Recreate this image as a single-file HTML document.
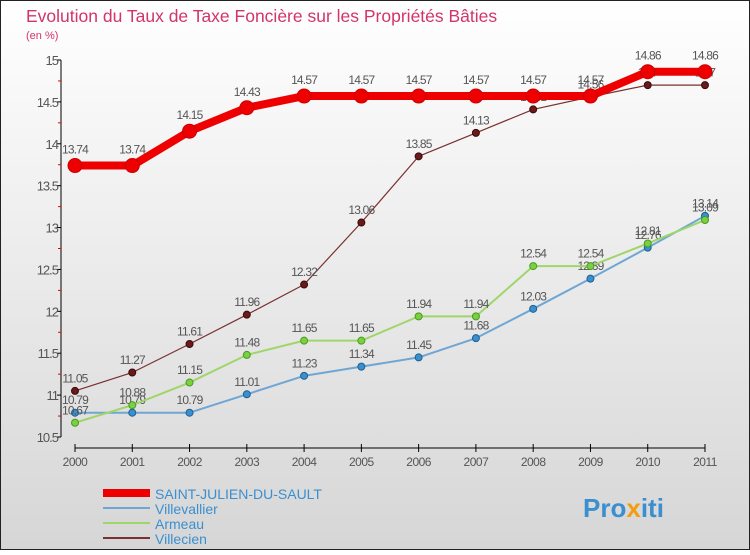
<!DOCTYPE html>
<html><head><meta charset="utf-8"><style>
body{margin:0;width:750px;height:550px;overflow:hidden;font-family:"Liberation Sans",sans-serif}
</style></head><body>
<svg id="c" width="750" height="550" xmlns="http://www.w3.org/2000/svg">
<defs><linearGradient id="bg" x1="0" y1="0" x2="0" y2="1"><stop offset="0" stop-color="#ffffff"/><stop offset="1" stop-color="#d6d6d6"/></linearGradient></defs>
<rect x="0.5" y="0.5" width="749" height="549" fill="url(#bg)" stroke="#222"/>
<text x="26" y="22" font-size="17.5" fill="#d2346b">Evolution du Taux de Taxe Foncière sur les Propriétés Bâties</text>
<text x="26" y="39" font-size="11" fill="#d2346b">(en %)</text>
<g id="axes"></g><g id="series"></g>
<g>
<line x1="103" y1="493" x2="150" y2="493" stroke="#ee0000" stroke-width="8"/>
<text x="155" y="499" font-size="14" fill="#3a8fd0">SAINT-JULIEN-DU-SAULT</text>
<line x1="103" y1="508" x2="150" y2="508" stroke="#6fa6d4" stroke-width="2"/>
<text x="155" y="514" font-size="14" fill="#3a8fd0">Villevallier</text>
<line x1="103" y1="523" x2="150" y2="523" stroke="#9ed66a" stroke-width="2"/>
<text x="155" y="529" font-size="14" fill="#3a8fd0">Armeau</text>
<line x1="103" y1="538" x2="150" y2="538" stroke="#7a3030" stroke-width="2"/>
<text x="155" y="544" font-size="14" fill="#3a8fd0">Villecien</text>
</g>
<text x="583" y="517" font-size="26" font-weight="bold" fill="#3a8fd0">Pro<tspan fill="#f39c12">x</tspan>iti</text>
</svg>
<script>
const years=["2000","2001","2002","2003","2004","2005","2006","2007","2008","2009","2010","2011"];
const yTicks=[10.5,11,11.5,12,12.5,13,13.5,14,14.5,15];
const yTickLabels=["10.5","11","11.5","12","12.5","13","13.5","14","14.5","15"];
const saintJulien=[13.74,13.74,14.15,14.43,14.57,14.57,14.57,14.57,14.57,14.57,14.86,14.86];
const villevallier=[10.79,10.79,10.79,11.01,11.23,11.34,11.45,11.68,12.03,12.39,12.76,13.14];
const armeau=[10.67,10.88,11.15,11.48,11.65,11.65,11.94,11.94,12.54,12.54,12.81,13.09];
const villecien=[11.05,11.27,11.61,11.96,12.32,13.06,13.85,14.13,14.41,14.56,14.7,14.7];
const NS="http://www.w3.org/2000/svg";
const xS=i=>75+i*(630/(years.length-1));
const yS=v=>437-(v-10.5)*(377/4.5);
function mk(t,a,p){const e=document.createElementNS(NS,t);for(const k in a)e.setAttribute(k,a[k]);p.appendChild(e);return e;}
const ax=document.getElementById('axes');
let l=mk('line',{x1:61,y1:yS(15),x2:61,y2:yS(10.5),stroke:'#000'},ax);


yTicks.forEach((v,i)=>{
 let t=mk('line',{x1:57,y1:yS(v),x2:61,y2:yS(v),stroke:'#000'},ax);
 
 
 if(i<yTicks.length-1){let m=mk('line',{x1:58,y1:yS(v+0.25),x2:61,y2:yS(v+0.25),stroke:'#e00'},ax);
 
 }
 let tx=mk('text',{x:58,y:yS(v)+5,'font-size':13,fill:'#555','text-anchor':'end','letter-spacing':'-1'},ax);tx.textContent=yTickLabels[i];
 
 
});
l=mk('line',{x1:xS(0),y1:448,x2:xS(years.length-1),y2:448,stroke:'#000'},ax);


years.forEach((y,i)=>{
 let t=mk('line',{x1:xS(i),y1:444,x2:xS(i),y2:452,stroke:'#000'},ax);
 
 
 let tx=mk('text',{x:xS(i),y:466,'font-size':12,fill:'#555','text-anchor':'middle','letter-spacing':'-0.5'},ax);tx.textContent=y;
 
 
});
const sg=document.getElementById('series');
function draw(vals,name,color,w,r,ptFill,ptStroke){
 const g=mk('g',{},sg);
 
 
 const p=mk('polyline',{points:vals.map((v,i)=>xS(i)+','+yS(v)).join(' '),fill:'none',stroke:color,'stroke-width':w,'stroke-linejoin':'round'},g);
 
 
 vals.forEach((v,i)=>{
  const c=mk('circle',{cx:xS(i),cy:yS(v),r:r,fill:ptFill,stroke:ptStroke,'stroke-width':1},g);
  
  
  const t=mk('text',{x:xS(i),y:yS(v)-r-5,'font-size':12,fill:'#555','text-anchor':'middle','letter-spacing':'-0.8'},g);
  t.textContent=String(v);
  
  
 });
}
draw(villecien,'villecien','#7a3030',1.2,3.5,'#6a1a1a','#3a0a0a');
draw(villevallier,'villevallier','#6fa6d4',2,3.5,'#3a8fd0','#1f5f90');
draw(armeau,'armeau','#9ed66a',2,3.5,'#7ad040','#4a9a20');
draw(saintJulien,'saint-julien','#ee0000',8,7,'#ee0000','#cc0000');
</script>
</body></html>
